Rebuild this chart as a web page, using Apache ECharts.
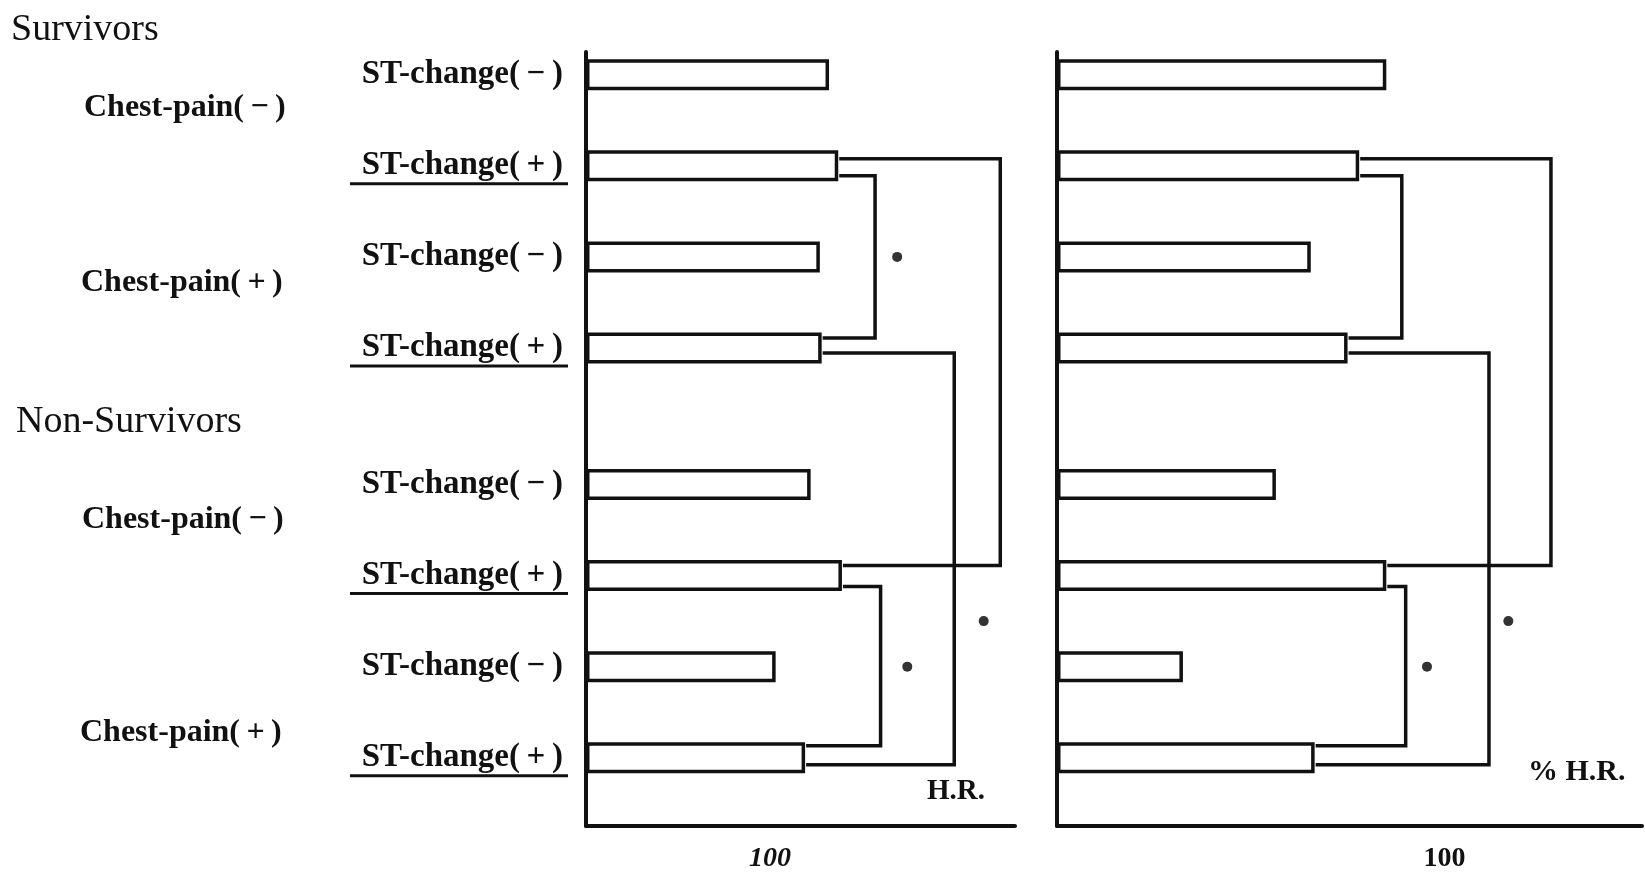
<!DOCTYPE html>
<html>
<head>
<meta charset="utf-8">
<title>H.R. and % H.R.</title>
<script src="https://cdn.jsdelivr.net/npm/echarts@6/dist/echarts.min.js"></script>
<style>
    html, body {margin: 0; padding: 0; background: #fff;}
    #chart {width: 1645px; height: 876px;}
</style>
</head>
<body>
<div id="chart"></div>
<script>
// rows, top to bottom; slots leave a gap between the two groups
const rowLabels = ['ST-change(\u2009−\u2009)', 'ST-change(\u2009+\u2009)', 'ST-change(\u2009−\u2009)', 'ST-change(\u2009+\u2009)',
    'ST-change(\u2009−\u2009)', 'ST-change(\u2009+\u2009)', 'ST-change(\u2009−\u2009)', 'ST-change(\u2009+\u2009)'];
const rowSlots = [0, 2, 4, 6, 9, 11, 13, 15];
const slotCount = 17;
const underlinedRows = [1, 3, 5, 7];

const hrValues = [132, 137, 127, 128, 122, 139, 103, 119];
const pctHrValues = [85, 78, 65.5, 75, 56.5, 85, 32.5, 66.5];

// [fromRow, toRow, bracket level on the x axis]
const hrBrackets = [[1, 5, 225], [1, 3, 157], [3, 7, 200], [5, 7, 160]];
const pctHrBrackets = [[1, 5, 127.5], [1, 3, 89], [3, 7, 111.5], [5, 7, 90]];

// significance dots: [x value, slot]
const hrDots = [[169, 4], [216, 12], [174.5, 13]];
const pctHrDots = [[116.5, 12], [95.5, 13]];

const hrTickLabels = [100];
const pctHrTickLabels = [100];

const ink = '#111';
const serif = '"Liberation Serif", "DejaVu Serif", serif';
const stroke = 4;
// where each bracket leaves/joins the bar end, px from the bar centre
const bracketOffsets = [[-7, -10], [10, -10], [5, 7], [11, -12]];

let categories = [];
for (let i = 0; i < slotCount; i++) categories.push('');
rowSlots.forEach((s, i) => categories[s] = rowLabels[i]);

let chart = echarts.init(document.getElementById('chart'));

const barData = (values) => values.map((v, i) => [v, rowSlots[i]]);
const bracketData = (brackets, values) => brackets.map(b => [rowSlots[b[0]], rowSlots[b[1]], b[2], values[b[0]], values[b[1]]]);

const bracketRender = (params, api) => {
    let off = bracketOffsets[params.dataIndex];
    let a = api.coord([api.value(3), api.value(0)]);
    let b = api.coord([api.value(4), api.value(1)]);
    let lv = api.coord([api.value(2), api.value(0)])[0];
    return {
        type: 'polyline',
        shape: {points: [[a[0] + 1, a[1] + off[0]], [lv, a[1] + off[0]], [lv, b[1] + off[1]], [b[0] + 1, b[1] + off[1]]]},
        style: {stroke: ink, lineWidth: stroke - 0.5, fill: null}
    };
};

const xAxisFor = (gridIndex, max, ticks, italic) => ({
    type: 'value', gridIndex, min: 0, max, interval: 100,
    axisLine: {show: true, lineStyle: {color: ink, width: stroke}},
    axisTick: {show: false},
    splitLine: {show: false},
    axisLabel: {
        margin: 19, color: ink, fontFamily: serif, fontSize: 28,
        fontStyle: italic ? 'italic' : 'normal', fontWeight: 'bold',
        formatter: v => ticks.indexOf(v) >= 0 ? String(v) : ''
    }
});

const yAxisFor = (gridIndex, showLabels) => ({
    type: 'category', gridIndex, data: categories, inverse: true,
    axisLine: {show: true, lineStyle: {color: ink, width: stroke}},
    axisTick: {show: false},
    splitLine: {show: false},
    axisLabel: {
        show: showLabels, interval: 0, margin: 23, color: ink,
        fontFamily: serif, fontSize: 33, fontWeight: 'bold'
    }
});

const barSeries = (idx, values) => ({
    type: 'bar', xAxisIndex: idx, yAxisIndex: idx, data: barData(values),
    barWidth: 31, silent: true,
    itemStyle: {color: '#fff', borderColor: ink, borderWidth: stroke - 0.5}
});

const bracketSeries = (idx, brackets, values) => ({
    type: 'custom', xAxisIndex: idx, yAxisIndex: idx, silent: true,
    dimensions: ['from', 'to', 'level', 'fromVal', 'toVal'],
    encode: {x: [2, 3, 4], y: [0, 1]},
    data: bracketData(brackets, values),
    renderItem: bracketRender, z: 3
});

const dotSeries = (idx, dots) => ({
    type: 'scatter', xAxisIndex: idx, yAxisIndex: idx, data: dots,
    symbol: 'circle', symbolSize: 10, silent: true,
    itemStyle: {color: '#000'}
});

const sideText = (text, x, y, size, bold) => ({
    type: 'text', x, y,
    style: {text, fill: ink, font: (bold ? 'bold ' : '') + size + 'px ' + serif, verticalAlign: 'middle'}
});

let option = {
    backgroundColor: '#fff',
    animation: false,
    grid: [
        {left: 586, width: 429, top: 52, bottom: 50},
        {left: 1057, right: 0, top: 52, bottom: 50}
    ],
    xAxis: [xAxisFor(0, 233, hrTickLabels, true), xAxisFor(1, 151, pctHrTickLabels, false)],
    yAxis: [yAxisFor(0, true), yAxisFor(1, false)],
    series: [
        barSeries(0, hrValues),
        bracketSeries(0, hrBrackets, hrValues),
        dotSeries(0, hrDots),
        barSeries(1, pctHrValues),
        bracketSeries(1, pctHrBrackets, pctHrValues),
        dotSeries(1, pctHrDots)
    ]
};
chart.setOption(option);

let graphics = [
    sideText('Survivors', 11, 30, 38, false),
    sideText('Chest-pain(\u2009−\u2009)', 84, 108, 32, true),
    sideText('Chest-pain(\u2009+\u2009)', 81, 283, 32, true),
    sideText('Non-Survivors', 16, 422, 38, false),
    sideText('Chest-pain(\u2009−\u2009)', 82, 520, 32, true),
    sideText('Chest-pain(\u2009+\u2009)', 80, 733, 32, true),
    sideText('H.R.', 927, 792, 29, true),
    sideText('% H.R.', 1528, 772, 30, true)
];
// underline the ST-change(+) labels
underlinedRows.forEach(r => {
    let y = chart.convertToPixel({yAxisIndex: 0}, rowSlots[r]) + 18;
    graphics.push({
        type: 'line', shape: {x1: 350, y1: y, x2: 568, y2: y},
        style: {stroke: ink, lineWidth: 3}
    });
});
chart.setOption({graphic: graphics});
</script>
</body>
</html>
